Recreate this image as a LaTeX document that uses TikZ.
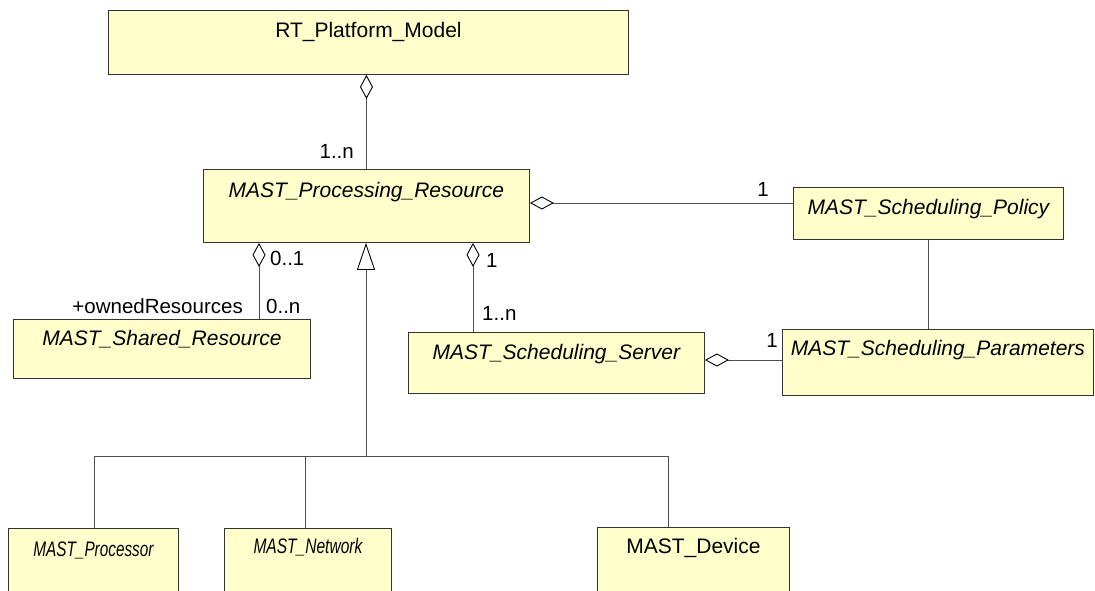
\documentclass[tikz,border=0pt]{standalone}
\usepackage{fontspec}
\setmainfont{Liberation Sans}
\usetikzlibrary{arrows.meta,calc}
\definecolor{boxfill}{HTML}{FFFFCC}
\definecolor{boxline}{HTML}{333333}
\definecolor{conn}{HTML}{505050}
\tikzset{
  cls/.style={draw=boxline, fill=boxfill, line width=0.9pt, inner sep=0pt, anchor=north west},
  nm/.style={font=\fontsize{21}{25}\selectfont, anchor=base, inner sep=0pt},
  inm/.style={font=\fontsize{21}{25}\selectfont\itshape, anchor=base, inner sep=0pt},
  mult/.style={font=\fontsize{20.5}{24}\selectfont, inner sep=0pt},
  link/.style={draw=conn, line width=0.9pt},
  agg/.style={link, {Diamond[open, fill=white, length=24pt, width=13pt, line width=0.9pt, color=black]}-},
  gen/.style={link, -{Triangle[open, fill=white, length=27pt, width=18pt, line width=0.9pt, color=black]}},
}
\begin{document}
\begin{tikzpicture}[x=1pt, y=-1pt]
\useasboundingbox (0,0) rectangle (1095,590);
\clip (0,0) rectangle (1095,590);
\fill[white] (0,0) rectangle (1095,590);

% boxes
\node[cls, minimum width=520pt, minimum height=64pt] (rt) at (108,10) {};
\node[cls, minimum width=326pt, minimum height=73pt] (pr) at (203,169) {};
\node[cls, minimum width=270pt, minimum height=52pt] (pol) at (793,187) {};
\node[cls, minimum width=311pt, minimum height=66pt] (par) at (782,329) {};
\node[cls, minimum width=296pt, minimum height=61pt] (srv) at (408,332) {};
\node[cls, minimum width=297pt, minimum height=59pt] (shr) at (13,319) {};
\node[cls, minimum width=170pt, minimum height=80pt] (proc) at (8,528) {};
\node[cls, minimum width=167pt, minimum height=80pt] (net) at (224,528) {};
\node[cls, minimum width=192pt, minimum height=80pt] (dev) at (597,527) {};

% class names
\node[nm]  (rtt)   at ($(rt.north)+(0,27)$) {RT\_Platform\_Model};
\node[inm] (prt)   at ($(pr.north)+(0,28)$) {MAST\_Processing\_Resource};
\node[inm] (polt)  at ($(pol.north)+(0,27)$) {MAST\_Scheduling\_Policy};
\node[inm] (part)  at ($(par.north)+(0,26)$) {MAST\_Scheduling\_Parameters};
\node[inm] (srvt)  at ($(srv.north)+(0,27)$) {MAST\_Scheduling\_Server};
\node[inm] (shrt)  at ($(shr.north)+(0,26)$) {MAST\_Shared\_Resource};
\node[inm] (proct) at ($(proc.north)+(0,28)$) {\scalebox{0.73}[1]{MAST\_Processor}};
\node[inm] (nett)  at ($(net.north)+(0,25)$) {\scalebox{0.74}[1]{MAST\_Network}};
\node[nm]  (devt)  at ($(dev.north)+(0,26)$) {MAST\_Device};

% aggregation connectors
\draw[agg] (rt.south -| pr.north) -- (pr.north);
\coordinate (pe) at ($(pr.north east)+(0,34)$);
\draw[agg] (pe) -- (pe -| pol.west);
\draw[link] (pol.south) -- (pol.south |- par.north);
\coordinate (se) at ($(srv.north east)+(0,28)$);
\draw[agg] (se) -- (se -| par.west);
\coordinate (ps) at ($(pr.south west)+(270,0)$);
\draw[agg] (ps) -- (ps |- srv.north);
\coordinate (pw) at ($(pr.south west)+(56,0)$);
\draw[agg] (pw) -- (pw |- shr.north);

% generalization tree
\coordinate (j) at (366,456);
\coordinate (pt) at ($(proc.north west)+(86,0)$);
\coordinate (nt) at ($(net.north west)+(81,0)$);
\coordinate (dt) at ($(dev.north west)+(71,0)$);
\draw[link] (pt) -- (pt |- j) -- (dt |- j) -- (dt);
\draw[link] (nt) -- (nt |- j);
\draw[gen] (j) -- (j |- pr.south);

% multiplicities and roles
\node[mult, anchor=base east] (m1) at (354,158) {1..n};
\node[mult, anchor=base] (m2) at (763,196) {1};
\node[mult, anchor=base west] (m3) at (270,265) {0..1};
\node[mult, anchor=base east] (m4) at (243,313) {+ownedResources};
\node[mult, anchor=base west] (m5) at (266,313) {0..n};
\node[mult, anchor=base west] (m6) at (486,267) {1};
\node[mult, anchor=base west] (m7) at (482,320) {1..n};
\node[mult, anchor=base east] (m8) at (778,347) {1};
\end{tikzpicture}
\end{document}
